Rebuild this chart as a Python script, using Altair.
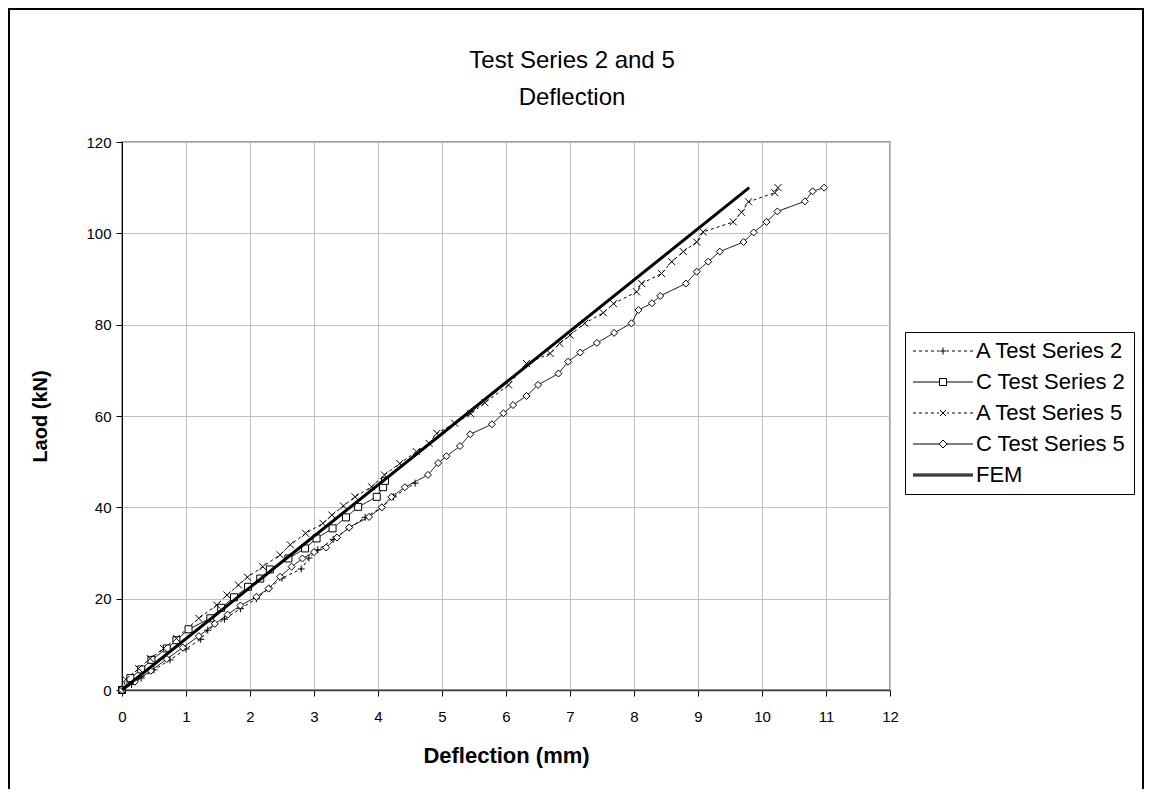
import altair as alt
import pandas as pd

FONT = "Liberation Sans"

title_lines = ["Test Series 2 and 5", "Deflection"]
series_names = ["A Test Series 2", "C Test Series 2", "A Test Series 5", "C Test Series 5", "FEM"]

a2_x = [0, 0.15, 0.3, 0.5, 0.75, 1.0, 1.23, 1.34, 1.6, 1.85, 2.1, 2.3, 2.5, 2.8, 2.92, 3.06, 3.3, 3.55, 3.8, 4.06, 4.24, 4.58]
a2_y = [0, 1.2, 2.6, 4.4, 6.6, 9.0, 11.1, 13.1, 15.5, 17.8, 20.0, 22.3, 24.5, 26.5, 28.9, 30.7, 33.0, 35.5, 37.8, 40.0, 42.3, 45.3]

c2_x = [0, 0.13, 0.3, 0.46, 0.7, 0.85, 1.04, 1.38, 1.55, 1.75, 1.97, 2.16, 2.31, 2.6, 2.86, 3.04, 3.29, 3.5, 3.69, 3.98, 4.08, 4.11]
c2_y = [0, 2.6, 4.5, 6.6, 9.1, 10.9, 13.3, 15.7, 18.0, 20.3, 22.6, 24.4, 26.4, 28.8, 31.0, 33.2, 35.4, 37.8, 40.1, 42.3, 44.4, 45.8]

a5_x = [0, 0.06, 0.26, 0.44, 0.65, 0.85, 1.2, 1.48, 1.64, 1.82, 1.96, 2.2, 2.47, 2.63, 2.87, 3.14, 3.28, 3.46, 3.64,
        3.9, 4.1, 4.34, 4.6, 4.8, 4.92, 5.2, 5.45, 5.67, 6.04, 6.32, 6.69, 6.84, 7.0, 7.23, 7.52, 7.68, 8.04, 8.12,
        8.43, 8.59, 8.77, 8.98, 9.08, 9.55, 9.68, 9.79, 10.2, 10.25]
a5_y = [0, 2.3, 4.7, 6.9, 9.1, 11.3, 15.7, 18.6, 20.8, 23.0, 24.7, 27.0, 29.6, 31.8, 34.3, 36.5, 38.3, 40.3, 42.3,
        44.5, 47.1, 49.6, 52.2, 54.0, 56.2, 58.4, 60.5, 62.9, 66.8, 71.5, 73.7, 75.9, 77.7, 80.3, 82.6, 84.6, 87.2, 89.0,
        91.2, 93.8, 96.0, 98.1, 100.3, 102.5, 104.6, 106.9, 108.9, 110.0]

c5_x = [0, 0.2, 0.45, 0.7, 0.95, 1.2, 1.45, 1.65, 1.85, 2.1, 2.29, 2.47, 2.65, 2.82, 3.0, 3.19, 3.36, 3.55, 3.86, 4.06,
        4.21, 4.42, 4.78, 4.94, 5.07, 5.28, 5.44, 5.78, 5.96, 6.11, 6.32, 6.5, 6.82, 6.97, 7.16, 7.42, 7.69, 7.96, 8.07,
        8.28, 8.41, 8.81, 8.98, 9.16, 9.34, 9.71, 9.87, 10.07, 10.24, 10.67, 10.79, 10.97]
c5_y = [0, 1.8, 4.2, 6.8, 9.3, 11.8, 14.5, 16.5, 18.5, 20.4, 22.2, 24.8, 27.0, 28.8, 30.2, 31.2, 33.4, 35.6, 37.9, 40.0,
        42.3, 44.4, 47.1, 49.7, 51.2, 53.4, 56.0, 58.2, 60.6, 62.4, 64.4, 66.8, 69.3, 71.9, 73.9, 76.0, 78.2, 80.3, 83.2,
        84.7, 86.3, 89.0, 91.6, 93.8, 96.0, 98.1, 100.2, 102.5, 104.8, 107.0, 109.2, 110.0]

fem_x = [0, 9.8]
fem_y = [0, 110]

x_ticks = list(range(0, 13))
y_ticks = list(range(0, 121, 20))

rows = []
for name, xs, ys in zip(series_names, [a2_x, c2_x, a5_x, c5_x, fem_x], [a2_y, c2_y, a5_y, c5_y, fem_y]):
    for i, (xv, yv) in enumerate(zip(xs, ys)):
        rows.append({"series": name, "x": xv, "y": yv, "i": i})
df = pd.DataFrame(rows)
test_df = df[df["series"] != "FEM"]
fem_df = df[df["series"] == "FEM"]

tests = series_names[:4]

x_enc = alt.X("x:Q", scale=alt.Scale(domain=[0, 12], nice=False),
              axis=alt.Axis(values=x_ticks, title="Deflection (mm)", labelPadding=13, titlePadding=21,
                            titleFontSize=22, domainColor="#404040", domainWidth=1.5))
y_enc = alt.Y("y:Q", scale=alt.Scale(domain=[0, 120], nice=False),
              axis=alt.Axis(values=y_ticks, title="Laod (kN)", labelPadding=5, titlePadding=35,
                            domainColor="black"))

# marker paths (plot)
marker_shapes = ["M-1,0H1M0,-1V1", "square", "M-1,-1L1,1M-1,1L1,-1", "diamond"]
marker_sizes = [49, 49, 56, 64]
dashes = [[3, 3], [1, 0], [3, 3], [1, 0]]

# legend paths (line + marker)
left_d = "M-6,0h0.6M-4.8,0h0.6M-3.6,0h0.6M-2.4,0h0.6M-1.2,0h0.4"
right_d = "M0.8,0h0.4M1.8,0h0.6M3,0h0.6M4.2,0h0.6M5.4,0h0.6"
legend_shapes = [
    left_d + "M-0.7,0H0.7M0,-0.7V0.7" + right_d,
    "M-6,0H-0.7M0.7,0H6M-0.7,-0.7H0.7V0.7H-0.7Z",
    left_d + "M-0.6,-0.6L0.6,0.6M-0.6,0.6L0.6,-0.6" + right_d,
    "M-6,0H-0.8M0.8,0H6M-0.8,0L0,-0.8L0.8,0L0,0.8Z",
    "M-6,-0.2H6M-6,0H6M-6,0.2H6",
]

lines = alt.Chart(test_df).mark_line(color="black", strokeWidth=1).encode(
    x=x_enc, y=y_enc, detail="series:N", order="i:Q",
    strokeDash=alt.StrokeDash("series:N", scale=alt.Scale(domain=tests, range=dashes), legend=None),
)

points = alt.Chart(test_df).mark_point(filled=True, fill="white", stroke="black", strokeWidth=1, opacity=1).encode(
    x=x_enc, y=y_enc,
    shape=alt.Shape("series:N", scale=alt.Scale(domain=tests, range=marker_shapes), legend=None),
    size=alt.Size("series:N", scale=alt.Scale(domain=tests, range=marker_sizes), legend=None),
)

fem = alt.Chart(fem_df).mark_line(color="black", strokeWidth=3).encode(x=x_enc, y=y_enc, order="i:Q")

legend_layer = alt.Chart(df).mark_point(opacity=0, filled=False).encode(
    x=x_enc, y=y_enc,
    shape=alt.Shape("series:N", scale=alt.Scale(domain=series_names, range=legend_shapes),
                    legend=alt.Legend(title=None, orient="none", legendX=783, legendY=190,
                                      symbolSize=100, symbolStrokeColor="black", symbolStrokeWidth=1,
                                      symbolOpacity=1, symbolFillColor="transparent", symbolOffset=19,
                                      labelFont=FONT, labelFontSize=22, labelColor="black",
                                      labelOffset=22, rowPadding=9, padding=8,
                                      strokeColor="black", fillColor="white", labelLimit=300)),
)

title = alt.Chart(alt.Data(values=[{"t": "\n".join(title_lines)}])).mark_text(
    font=FONT, fontSize=24, color="black", align="center", baseline="middle", lineBreak="\n", lineHeight=37
).encode(text="t:N", x=alt.value(450), y=alt.value(-81))

border = alt.Chart(alt.Data(values=[{}])).mark_rect(fillOpacity=0, stroke="black", strokeWidth=2).encode(
    x=alt.value(-113), x2=alt.value(1021), y=alt.value(-133), y2=alt.value(900)
)

chart = alt.layer(border, title, lines, points, fem, legend_layer).resolve_scale(
    shape="independent", size="independent", strokeDash="independent"
).resolve_legend(shape="independent").properties(
    width=768, height=548,
    padding={"left": 114, "top": 134, "right": 255, "bottom": 99},
    autosize=alt.AutoSizeParams(type="none"),
).configure_view(stroke="#808080", strokeWidth=1.5).configure_axis(
    labelFont=FONT, labelFontSize=15, labelColor="black", titleFont=FONT, titleFontSize=20,
    titleFontWeight="bold", titleColor="black", gridColor="#c0c0c0", gridWidth=1, tickColor="black",
    tickSize=6, labelFlush=False, labelOverlap=False
)

chart.save("out.html", embed_options={"renderer": "svg", "actions": False})
